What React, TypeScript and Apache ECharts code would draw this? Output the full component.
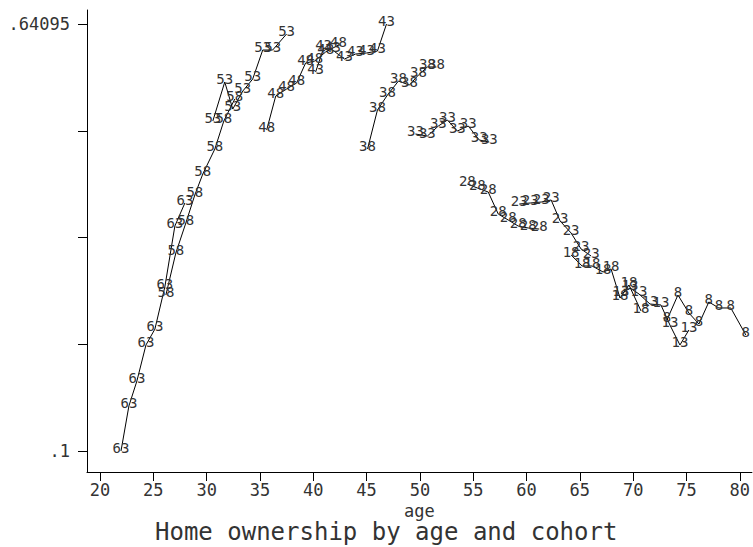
import React, { useEffect, useRef } from "react";
import * as echarts from "echarts";

// Cohort labels (birth year of cohort)
const cohortNames = ["63", "58", "53", "48", "43", "38", "33", "28", "23", "18", "13", "8"];

// age / home-ownership rate per cohort
const age63 = [21.97, 22.71, 23.46, 24.31, 25.15, 26.08, 27.02, 27.96];
const own63 = [0.1, 0.157, 0.1887, 0.2343, 0.2545, 0.3078, 0.385, 0.4142];
const age58 = [26.18, 27.11, 28.05, 28.89, 29.64, 30.77, 31.61, 32.64];
const own58 = [0.2976, 0.3508, 0.3888, 0.4243, 0.4509, 0.4826, 0.518, 0.5459];
const age53 = [30.58, 31.7, 32.45, 33.39, 34.32, 35.26, 36.19, 37.5];
const own53 = [0.518, 0.5675, 0.5332, 0.556, 0.5712, 0.608, 0.608, 0.6283];
const age48 = [35.63, 36.48, 37.5, 38.44, 39.28, 40.13, 41.16, 42.37];
const own48 = [0.5066, 0.5497, 0.5586, 0.5662, 0.5915, 0.594, 0.6055, 0.6143];
const age43 = [40.22, 40.97, 41.81, 42.93, 43.96, 44.99, 46.02, 46.87];
const own43 = [0.5801, 0.6105, 0.608, 0.5966, 0.6029, 0.6042, 0.6067, 0.64095];
const age38 = [45.09, 46.02, 46.96, 47.99, 49.02, 49.86, 50.7, 51.55];
const own38 = [0.4826, 0.532, 0.551, 0.5687, 0.5636, 0.5763, 0.5865, 0.5865];
const age33 = [49.58, 50.7, 51.73, 52.58, 53.51, 54.54, 55.57, 56.51];
const own33 = [0.5016, 0.499, 0.5117, 0.5193, 0.5054, 0.5117, 0.494, 0.4914];
const age28 = [54.45, 55.39, 56.41, 57.35, 58.29, 59.22, 60.16, 61.19];
const own28 = [0.4382, 0.4332, 0.4281, 0.4002, 0.3926, 0.385, 0.3825, 0.3812];
const age23 = [59.32, 60.35, 61.38, 62.31, 63.15, 64.18, 65.12, 66.06];
const own23 = [0.4129, 0.4142, 0.4154, 0.418, 0.3914, 0.3762, 0.3559, 0.347];
const age18 = [64.18, 65.21, 66.15, 67.18, 67.93, 68.77, 69.61, 70.74];
const own18 = [0.3483, 0.3344, 0.3344, 0.3268, 0.3306, 0.2938, 0.3103, 0.2774];
const age13 = [68.86, 69.71, 70.55, 71.58, 72.61, 73.45, 74.39, 75.23];
const own13 = [0.2989, 0.3065, 0.2989, 0.2862, 0.285, 0.2596, 0.2343, 0.2533];
const age8 = [73.17, 74.2, 75.23, 76.17, 77.1, 78.04, 79.16, 80.57];
const own8 = [0.266, 0.2976, 0.2748, 0.2609, 0.2888, 0.2812, 0.2812, 0.247];

const cohortAges = [age63, age58, age53, age48, age43, age38, age33, age28, age23, age18, age13, age8];
const cohortOwn = [own63, own58, own53, own48, own43, own38, own33, own28, own23, own18, own13, own8];

// axis ticks
const xTicks = [20, 25, 30, 35, 40, 45, 50, 55, 60, 65, 70, 75, 80];
const yTicks = [0.1, 0.23524, 0.37048, 0.50571, 0.64095];
const yTickLabels = [0.1, 0.64095];

const FONT = "'DejaVu Sans Mono', 'Liberation Mono', monospace";
const INK = "#333";

export default function App() {
  const ref = useRef<HTMLDivElement>(null);
  useEffect(() => {
    if (!ref.current) return;
    const chart = echarts.init(ref.current, undefined, { renderer: "svg" });
    const series = cohortNames.map((name, k) => ({
      type: "line" as const,
      name,
      data: cohortAges[k].map((a, i) => [a, cohortOwn[k][i]]),
      symbol: "circle",
      symbolSize: 1,
      showSymbol: true,
      itemStyle: { color: "transparent" },
      lineStyle: { color: "#000", width: 1 },
      label: {
        show: true,
        position: "inside",
        offset: [0, -3],
        formatter: name,
        color: INK,
        fontFamily: FONT,
        fontSize: 14,
      },
      silent: true,
      emphasis: { disabled: true },
    }));
    chart.setOption({
      animation: false,
      backgroundColor: "#fff",
      title: {
        text: "Home ownership by age and cohort",
        left: 150,
        top: 515,
        textStyle: { fontFamily: FONT, fontSize: 24, fontWeight: "normal", color: INK },
      },
      grid: { left: 87, right: 0, top: 10, bottom: 75, containLabel: false },
      xAxis: {
        type: "value",
        min: 18.78,
        max: 81.14,
        name: "age",
        nameLocation: "middle",
        nameGap: 26,
        nameTextStyle: { fontFamily: FONT, fontSize: 17, color: INK },
        axisLine: { show: true, onZero: false, lineStyle: { color: "#000", width: 1 } },
        axisTick: { show: true, customValues: xTicks, length: 9, lineStyle: { color: "#000" } },
        axisLabel: { customValues: xTicks, margin: 9, fontFamily: FONT, fontSize: 17, color: INK },
        splitLine: { show: false },
      },
      yAxis: {
        type: "value",
        min: 0.0734,
        max: 0.6587,
        axisLine: { show: true, onZero: false, lineStyle: { color: "#000", width: 1 } },
        axisTick: { show: true, customValues: yTicks, length: 9, lineStyle: { color: "#000" } },
        axisLabel: {
          customValues: yTickLabels,
          margin: 17,
          fontFamily: FONT,
          fontSize: 17,
          color: INK,
          formatter: (v: number) => String(v).replace(/^0/, ""),
        },
        splitLine: { show: false },
      },
      series,
    });
    return () => chart.dispose();
  }, []);
  return (
    <div
      ref={ref}
      style={{ position: "fixed", left: 0, top: 0, width: 753, height: 547, background: "#fff" }}
    />
  );
}
